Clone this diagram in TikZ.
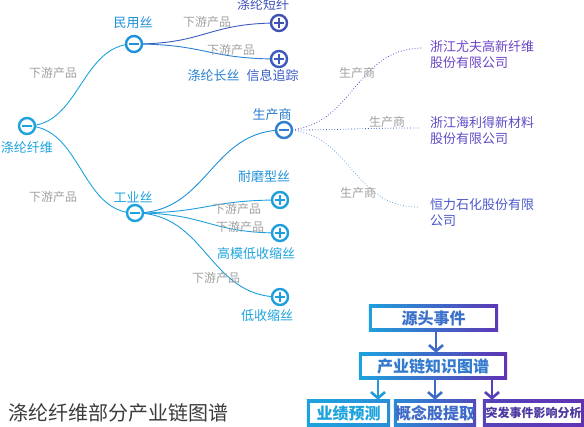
\documentclass[tikz,border=0pt]{standalone}
\usepackage{fontspec}
\setmainfont{Noto Sans CJK SC}
\usetikzlibrary{arrows.meta,backgrounds}
\definecolor{cy}{RGB}{28,163,222}
\definecolor{pu}{RGB}{96,50,180}
\definecolor{gr}{RGB}{160,160,160}
\definecolor{tc}{RGB}{60,60,60}
\definecolor{c0}{RGB}{28,163,222}
\definecolor{c1}{RGB}{32,144,216}
\definecolor{c2}{RGB}{63,81,181}
\definecolor{c3}{RGB}{59,91,192}
\definecolor{c4}{RGB}{43,126,208}
\definecolor{c5}{RGB}{30,158,219}
\definecolor{t1}{RGB}{42,128,208}
\definecolor{t2}{RGB}{58,94,196}
\definecolor{p1}{RGB}{106,68,196}
\definecolor{p2}{RGB}{92,76,196}
\definecolor{p3}{RGB}{74,88,200}
\tikzset{
  lbl/.style={font=\fontsize{13}{15}\selectfont, inner sep=0pt},
  elbl/.style={font=\fontsize{12}{14}\selectfont, text=gr, inner sep=0pt},
  comp/.style={font=\fontsize{13}{16}\selectfont, inner sep=0pt, align=left, anchor=west},
  mnode/.style={circle, draw=#1, line width=2.4pt, fill=white, minimum size=16pt, inner sep=0pt,
    path picture={\fill[#1] ([shift={(-4.8pt,-1.3pt)}]path picture bounding box.center) rectangle ([shift={(4.8pt,1.3pt)}]path picture bounding box.center);}},
  pnode/.style={circle, draw=#1, line width=2.4pt, fill=white, minimum size=16pt, inner sep=0pt,
    path picture={\fill[#1] ([shift={(-4.8pt,-1.3pt)}]path picture bounding box.center) rectangle ([shift={(4.8pt,1.3pt)}]path picture bounding box.center);
    \fill[#1] ([shift={(-1.3pt,-4.8pt)}]path picture bounding box.center) rectangle ([shift={(1.3pt,4.8pt)}]path picture bounding box.center);}},
  link/.style={line width=0.9pt},
  dotlink/.style={line width=0.8pt, dotted},
  evbox/.style={minimum height=26pt, inner sep=0pt, font=\bfseries\fontsize{16}{18}\selectfont},
  arr/.style={line width=2.6pt, -{Straight Barb[length=6pt,width=14pt]}},
}
\begin{document}
\begin{tikzpicture}[x=1pt,y=-1pt]
\useasboundingbox (0,0) rectangle (584,427);
% mind map nodes
\node[mnode=c0] (root) at (27,126) {};
\node[mnode=c1] (my) at (134,44) {};
\node[pnode=c2] (dd) at (279,23) {};
\node[pnode=c3] (dc) at (279,59) {};
\node[mnode=c0] (gy) at (135,213) {};
\node[mnode=c4] (sc) at (284,130) {};
\node[pnode=c5] (nm) at (280,200) {};
\node[pnode=c5] (gm) at (280,233) {};
\node[pnode=c5] (ds) at (280,297) {};
% node labels
\node[lbl, text=c0] (Lroot) at (27,148) {涤纶纤维};
\node[lbl, text=c1] (Lmy) at (133,23) {民用丝};
\node[lbl, text=c2] (Ldd) at (263,5) {涤纶短纤};
\node[lbl] (Ldc) at (243,76) {\textcolor{t1}{涤纶长丝}\hspace{7pt}\textcolor{t2}{信息追踪}};
\node[lbl, text=c0] (Lgy) at (133,197) {工业丝};
\node[lbl, text=c4] (Lsc) at (272,115) {生产商};
\node[lbl, text=c1] (Lnm) at (264,177) {耐磨型丝};
\node[lbl, text=c0] (Lgm) at (256,254) {高模低收缩丝};
\node[lbl, text=c0] (Lds) at (267,316) {低收缩丝};
% companies
\node[comp, text=p1] (co1) at (430,55) {浙江尤夫高新纤维\\股份有限公司};
\node[comp, text=p2] (co2) at (430,131) {浙江海利得新材料\\股份有限公司};
\node[comp, text=p3] (co3) at (430,213) {恒力石化股份有限\\公司};
\coordinate (e1) at (423,48);
\coordinate (e2) at (420,128);
\coordinate (e3) at (418,207);
% edge labels
\node[elbl] (l1) at (53,73) {下游产品};
\node[elbl] (l2) at (53,197) {下游产品};
\node[elbl] (l3) at (207,22) {下游产品};
\node[elbl] (l4) at (231,50) {下游产品};
\node[elbl] (l5) at (237,209) {下游产品};
\node[elbl] (l6) at (240,227) {下游产品};
\node[elbl] (l7) at (216,278) {下游产品};
\node[elbl] (s1) at (357,73) {生产商};
\node[elbl] (s2) at (387,122) {生产商};
\node[elbl] (s3) at (358,193) {生产商};
% title
\node[anchor=west, inner sep=0pt, font=\fontsize{20}{22}\selectfont, text=tc] (title) at (8,413) {涤纶纤维部分产业链图谱};
% event boxes
\node[evbox, minimum width=129pt, text=pu!45!cy] (src) at (433.5,318) {源头事件};
\node[evbox, minimum width=148pt, text=pu!35!cy] (kg) at (433,366) {产业链知识图谱};
\node[evbox, minimum width=83pt, text=cy] (b1) at (348.5,413) {业绩预测};
\node[evbox, minimum width=82pt, text=pu!50!cy] (b2) at (435,413) {概念股提取};
\node[evbox, minimum width=101pt, text=pu!85!black!90!cy, font=\bfseries\fontsize{12}{14}\selectfont] (b3) at (533.5,413) {突发事件影响分析};
\coordinate (ax0) at (436,0);
\coordinate (ax1) at (378,0);
\coordinate (ax2) at (435,0);
\coordinate (ax3) at (492,0);
\draw[arr, pu!50!cy] (ax0 |- src.south) -- (ax0 |- kg.north);
\draw[arr, pu!8!cy] (ax1 |- kg.south) -- (ax1 |- b1.north);
\draw[arr, pu!50!cy] (ax2 |- kg.south) -- (ax2 |- b2.north);
\draw[arr, pu!88!cy] (ax3 |- kg.south) -- (ax3 |- b3.north);
\begin{scope}[on background layer]
  \draw[link, c0] (root.center) .. controls +(53,0) and +(-53,0) .. (my.center);
  \draw[link, c0] (root.center) .. controls +(54,0) and +(-54,0) .. (gy.center);
  \draw[link, c3] (my.center) .. controls +(72,0) and +(-72,0) .. (dd.center);
  \draw[link, t1] (my.center) .. controls +(72,0) and +(-72,0) .. (dc.center);
  \draw[link, c1] (gy.center) .. controls +(74,0) and +(-74,0) .. (sc.center);
  \draw[link, c5] (gy.center) .. controls +(72,0) and +(-72,0) .. (nm.center);
  \draw[link, c5] (gy.center) .. controls +(72,0) and +(-72,0) .. (gm.center);
  \draw[link, c5] (gy.center) .. controls +(72,0) and +(-72,0) .. (ds.center);
  \draw[dotlink, p2] (sc.center) .. controls +(70,0) and +(-70,0) .. (e1);
  \draw[dotlink, t2] (sc.center) .. controls +(68,0) and +(-68,0) .. (e2);
  \draw[dotlink, c4!70!white] (sc.center) .. controls +(67,0) and +(-67,0) .. (e3);
  \foreach \nn/\lp/\rp in {src/3/95, kg/0/100, b1/0/18, b2/21/79, b3/84/100} {
    \shade[left color=pu!\lp!cy, right color=pu!\rp!cy] (\nn.south west) rectangle (\nn.north east);
    \fill[white] ([shift={(2.8pt,2.8pt)}]\nn.south west) rectangle ([shift={(-2.8pt,-2.8pt)}]\nn.north east);
  }
\end{scope}
\end{tikzpicture}
\end{document}
